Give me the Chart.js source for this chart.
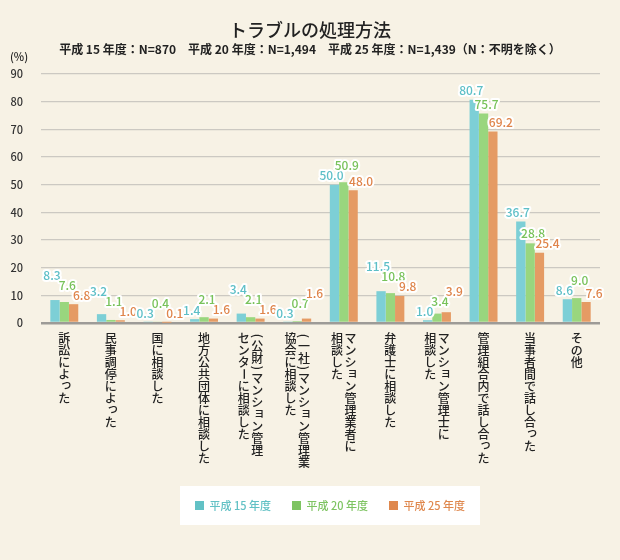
<!DOCTYPE html>
<html lang="ja">
<head>
<meta charset="utf-8">
<title>トラブルの処理方法</title>
<script src="https://cdn.jsdelivr.net/npm/chart.js@4.4.1/dist/chart.umd.min.js"></script>
<style>
    html, body { margin: 0; padding: 0; background: #f7f2e5; }
    #chart { display: block; }
</style>
</head>
<body>
<canvas id="chart" width="620" height="560"></canvas>
<script>
// Category labels, one entry per column of vertical text (right column first)
const categories = [
    ['訴訟によった'],
    ['民事調停によった'],
    ['国に相談した'],
    ['地方公共団体に相談した'],
    ['(公財)マンション管理', 'センターに相談した'],
    ['(一社)マンション管理業', '協会に相談した'],
    ['マンション管理業者に', '相談した'],
    ['弁護士に相談した'],
    ['マンション管理士に', '相談した'],
    ['管理組合内で話し合った'],
    ['当事者間で話し合った'],
    ['その他']
];
const seriesNames = ['平成 15 年度', '平成 20 年度', '平成 25 年度'];
const h15 = [8.3, 3.2, 0.3, 1.4, 3.4, 0.3, 50.0, 11.5, 1.0, 80.7, 36.7, 8.6];
const h20 = [7.6, 1.1, 0.4, 2.1, 2.1, 0.7, 50.9, 10.8, 3.4, 75.7, 28.8, 9.0];
const h25 = [6.8, 1.0, 0.1, 1.6, 1.6, 1.6, 48.0, 9.8, 3.9, 69.2, 25.4, 7.6];
const yMin = 0;
const yMax = 90;
const yStep = 10;

const titleText = 'トラブルの処理方法';
const subtitleText = '平成 15 年度：N=870　平成 20 年度：N=1,494　平成 25 年度：N=1,439（N：不明を除く）';
const unitText = '(%)';

const FONT = "'Noto Sans CJK JP', 'Noto Sans', sans-serif";
const barColors = ['#7dcfd6', '#99d67e', '#e59b64'];
const labelColors = ['#5dbfc7', '#78c25a', '#df844a'];
const legendColors = ['#62c1c5', '#7ec462', '#df884e'];

// Characters that turn sideways in vertical writing
const ROTATED = 'ー()（）';
const HALF_WIDTH = '()';
const SMALL_KANA = 'ぁぃぅぇぉっゃゅょァィゥェォッャュョ';

/**
 * Vertical (tategaki) category labels under the x axis
 */
const verticalLabels = {
    id: 'verticalLabels',
    afterDraw(chart) {
        const ctx = chart.ctx;
        const xScale = chart.scales.x;
        const top = chart.chartArea.bottom + 9;
        ctx.save();
        ctx.font = '500 12px ' + FONT;
        ctx.fillStyle = '#222';
        ctx.textAlign = 'center';
        ctx.textBaseline = 'middle';
        categories.forEach((cols, i) => {
            const cx = xScale.getPixelForValue(i);
            cols.forEach((text, c) => {
                const x = cx + ((cols.length - 1) / 2 - c) * 13.5;
                let y = top;
                [...text].forEach(ch => {
                    const adv = HALF_WIDTH.includes(ch) ? 8 : 12;
                    const my = y + adv / 2;
                    if (ROTATED.includes(ch)) {
                        ctx.save();
                        ctx.translate(x, my);
                        ctx.rotate(Math.PI / 2);
                        ctx.fillText(ch, 0, 0);
                        ctx.restore();
                    } else if (SMALL_KANA.includes(ch)) {
                        ctx.fillText(ch, x + 2, my - 2);
                    } else {
                        ctx.fillText(ch, x, my);
                    }
                    y += adv;
                });
            });
        });
        ctx.restore();
    }
};

/**
 * Value labels above the bars, nudged so they don't overlap
 */
const valueLabels = {
    id: 'valueLabels',
    afterDatasetsDraw(chart) {
        const ctx = chart.ctx;
        const nudge = [-3, 3, 8];
        ctx.save();
        ctx.font = '500 12px ' + FONT;
        ctx.textAlign = 'center';
        ctx.textBaseline = 'middle';
        ctx.lineJoin = 'round';
        ctx.lineWidth = 4;
        ctx.strokeStyle = '#fff';

        categories.forEach((_, i) => {
            const items = chart.data.datasets.map((ds, d) => {
                const bar = chart.getDatasetMeta(d).data[i];
                const text = ds.data[i].toFixed(1);
                return {
                    d, text, value: ds.data[i],
                    x: bar.x + nudge[d],
                    y: bar.y - 9,
                    w: ctx.measureText(text).width
                };
            });
            // simple collision pass: the taller bar's label moves up
            for (let pass = 0; pass < 6; pass++) {
                let moved = false;
                for (let a = 0; a < items.length; a++) {
                    for (let b = a + 1; b < items.length; b++) {
                        const la = items[a], lb = items[b];
                        const overlapX = Math.abs(la.x - lb.x) < (la.w + lb.w) / 2 + 1;
                        const overlapY = Math.abs(la.y - lb.y) < 10;
                        if (overlapX && overlapY) {
                            const up = la.value >= lb.value ? la : lb;
                            const other = up === la ? lb : la;
                            up.y = other.y - 10;
                            moved = true;
                        }
                    }
                }
                if (!moved) break;
            }
            items.forEach(item => {
                ctx.strokeText(item.text, item.x, item.y);
                ctx.fillStyle = labelColors[item.d];
                ctx.fillText(item.text, item.x, item.y);
            });
        });
        ctx.restore();
    }
};

/**
 * Unit label, legend shift and white legend panel
 */
const decorations = {
    id: 'decorations',
    afterLayout(chart) {
        const legend = chart.legend;
        legend.left += 20;
        legend.right += 20;
    },
    beforeDraw(chart) {
        const ctx = chart.ctx;
        const legend = chart.legend;
        const pad = legend.options.labels.padding;
        const rowW = legend.lineWidths[0];
        const startX = (legend.left + pad + legend.right - rowW) / 2;
        const endX = startX + rowW - pad;
        const cy = legend.top + pad + 5.5;
        ctx.save();
        ctx.fillStyle = '#fff';
        ctx.fillRect(startX - 15, cy - 19.5, endX - startX + 30, 39);
        ctx.restore();
    },
    afterDraw(chart) {
        const ctx = chart.ctx;
        ctx.save();
        ctx.font = '500 11px ' + FONT;
        ctx.fillStyle = '#222';
        ctx.textAlign = 'center';
        ctx.textBaseline = 'middle';
        ctx.fillText(unitText, 19, 57);
        ctx.restore();
    }
};

const datasets = [h15, h20, h25].map((values, d) => ({
    label: seriesNames[d],
    data: values,
    backgroundColor: barColors[d],
    borderWidth: 0,
    barPercentage: 1,
    categoryPercentage: 0.6
}));

new Chart(document.getElementById('chart'), {
    type: 'bar',
    data: {
        labels: categories.map(c => c.join('')),
        datasets: datasets
    },
    options: {
        responsive: false,
        animation: false,
        layout: { padding: { left: 0, right: 0, top: 0, bottom: 39 } },
        scales: {
            x: {
                ticks: { display: false },
                grid: { display: false },
                border: { display: false },
                afterFit(scale) { scale.height = 156; }
            },
            y: {
                min: yMin,
                max: yMax,
                ticks: {
                    stepSize: yStep,
                    padding: 18,
                    color: '#333',
                    font: { family: FONT, size: 11, weight: '500' }
                },
                grid: {
                    drawTicks: false,
                    color: ctx => ctx.tick && ctx.tick.value === 0 ? '#9d9b97' : '#ccc9c2',
                    lineWidth: ctx => ctx.tick && ctx.tick.value === 0 ? 2.5 : 1.2
                },
                border: { display: false },
                afterFit(scale) { scale.width = 41; }
            },
            // empty right-hand margin so the title centres on the whole page
            margin: {
                type: 'linear',
                position: 'right',
                display: true,
                ticks: { display: false },
                grid: { display: false },
                border: { display: false },
                afterFit(scale) { scale.width = 20; }
            }
        },
        plugins: {
            title: {
                display: true,
                text: titleText,
                color: '#222',
                font: { family: FONT, size: 18, weight: '500' },
                padding: { top: 19, bottom: 0 }
            },
            subtitle: {
                display: true,
                text: subtitleText,
                color: '#222',
                font: { family: FONT, size: 12, weight: 'bold' },
                padding: { top: 2, bottom: 17 }
            },
            legend: {
                position: 'bottom',
                labels: {
                    boxWidth: 9,
                    boxHeight: 9,
                    padding: 21,
                    font: { family: FONT, size: 11, weight: '500' },
                    generateLabels(chart) {
                        return chart.data.datasets.map((ds, d) => ({
                            text: ds.label,
                            fillStyle: legendColors[d],
                            strokeStyle: legendColors[d],
                            fontColor: legendColors[d],
                            lineWidth: 0,
                            hidden: false,
                            datasetIndex: d
                        }));
                    }
                }
            },
            tooltip: { enabled: false }
        }
    },
    plugins: [decorations, valueLabels, verticalLabels]
});
</script>
</body>
</html>
